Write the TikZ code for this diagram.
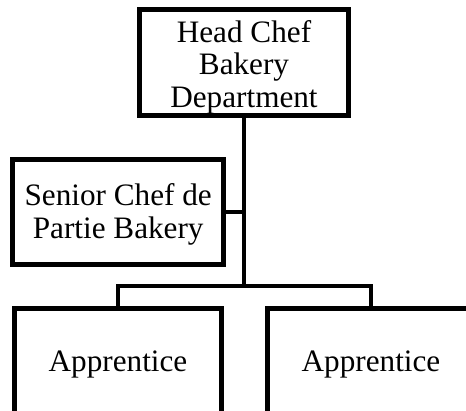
\documentclass[tikz,border=0pt]{standalone}
\usepackage{fontspec}
\setmainfont{Liberation Serif}
\usepackage{tikz}
\usetikzlibrary{positioning}

\begin{document}
\begin{tikzpicture}[x=1pt,y=-1pt,
  post/.style={draw,line width=5pt,align=center,inner sep=0pt,
    minimum width=209pt,font=\fontsize{31.2}{32.5}\selectfont},
  link/.style={line width=4.2pt}]
\useasboundingbox (0,0) rectangle (466,411);
\clip (0,0) rectangle (466,411);
% Bakery staff
\node[post,minimum height=106pt] (head) at (244,62.8) {\rule{0pt}{30.6pt}Head Chef\\Bakery\\Department};
\node[post,minimum width=211pt,minimum height=105.6pt] (senior) at (118.2,212) {\rule{0pt}{26.5pt}Senior Chef de\\Partie Bakery};
\node[post,minimum width=207pt,minimum height=111pt] (appleft) at (118,364) {Apprentice};
\node[post,minimum width=207pt,minimum height=111pt] (appright) at (371,364) {Apprentice};
\coordinate (split) at (244,286.3);

% Reporting lines
\draw[link] (head.south) -- (split);
\draw[link,line width=3.6pt] (senior.east) -- (senior.east -| split);
\draw[link] (split) -| (appleft.north);
\draw[link] (split) -| (appright.north);
\end{tikzpicture}
\end{document}
